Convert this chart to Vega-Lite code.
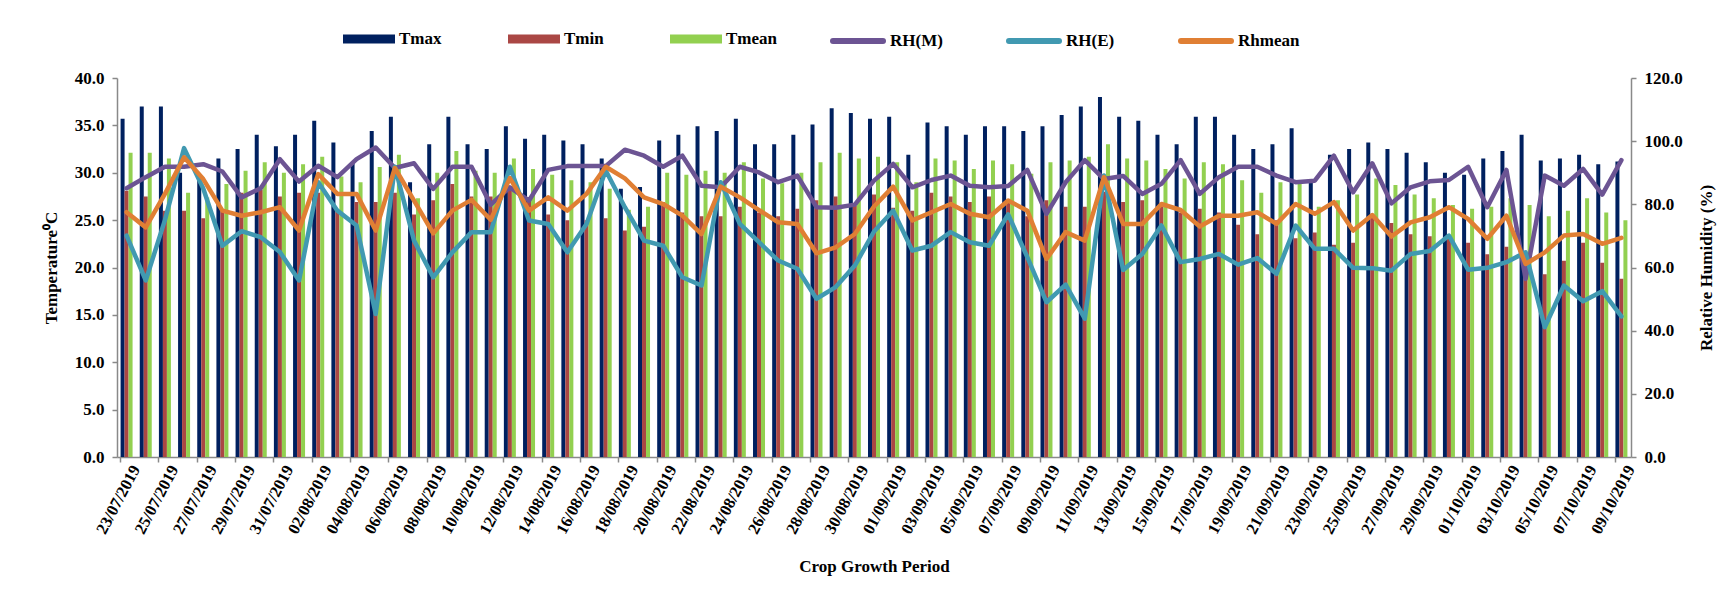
{
  "$schema": "https://vega.github.io/schema/vega-lite/v6.json",
  "width": 1514,
  "height": 379,
  "autosize": {"type": "none"},
  "padding": {"left": 117, "top": 78, "right": 103, "bottom": 133},
  "background": "white",
  "config": {
    "view": {"stroke": null},
    "font": "Liberation Serif",
    "axis": {
      "labelFont": "Liberation Serif", "labelFontWeight": "bold", "labelFontSize": 17, "labelColor": "black",
      "titleFont": "Liberation Serif", "titleFontWeight": "bold", "titleFontSize": 17, "titleColor": "black",
      "domainColor": "#898989", "domainWidth": 1.5, "tickColor": "#898989", "tickWidth": 1.5, "tickSize": 5, "grid": false
    },
    "legend": {"labelFont": "Liberation Serif", "labelFontWeight": "bold", "labelFontSize": 17, "labelColor": "black"}
  },
  "data": {"values": [
    {"d":"23/07/2019","Tmax":35.7,"Tmin":28.1,"Tmean":32.1,"RHM":85.1,"RHE":70.1,"RHmean":77.5},
    {"d":"24/07/2019","Tmax":37.0,"Tmin":27.5,"Tmean":32.1,"RHM":88.6,"RHE":55.9,"RHmean":72.7},
    {"d":"25/07/2019","Tmax":37.0,"Tmin":26.0,"Tmean":31.5,"RHM":91.9,"RHE":75.0,"RHmean":83.3},
    {"d":"26/07/2019","Tmax":30.0,"Tmin":26.0,"Tmean":27.9,"RHM":91.9,"RHE":97.8,"RHmean":94.9},
    {"d":"27/07/2019","Tmax":29.6,"Tmin":25.2,"Tmean":27.4,"RHM":92.7,"RHE":85.0,"RHmean":88.0},
    {"d":"28/07/2019","Tmax":31.5,"Tmin":26.1,"Tmean":28.8,"RHM":90.4,"RHE":66.9,"RHmean":78.0},
    {"d":"29/07/2019","Tmax":32.5,"Tmin":27.9,"Tmean":30.2,"RHM":82.2,"RHE":71.5,"RHmean":76.4},
    {"d":"30/07/2019","Tmax":34.0,"Tmin":28.2,"Tmean":31.1,"RHM":85.1,"RHE":69.6,"RHmean":77.5},
    {"d":"31/07/2019","Tmax":32.8,"Tmin":27.5,"Tmean":30.0,"RHM":94.3,"RHE":64.9,"RHmean":79.1},
    {"d":"01/08/2019","Tmax":34.0,"Tmin":27.9,"Tmean":30.9,"RHM":87.2,"RHE":55.9,"RHmean":71.7},
    {"d":"02/08/2019","Tmax":35.5,"Tmin":27.9,"Tmean":31.7,"RHM":92.2,"RHE":87.0,"RHmean":89.6},
    {"d":"03/08/2019","Tmax":33.2,"Tmin":26.0,"Tmean":29.6,"RHM":88.6,"RHE":78.0,"RHmean":83.3},
    {"d":"04/08/2019","Tmax":31.1,"Tmin":26.9,"Tmean":29.0,"RHM":94.3,"RHE":73.3,"RHmean":83.3},
    {"d":"05/08/2019","Tmax":34.4,"Tmin":26.9,"Tmean":30.6,"RHM":98.0,"RHE":45.3,"RHmean":71.7},
    {"d":"06/08/2019","Tmax":35.9,"Tmin":27.9,"Tmean":31.9,"RHM":91.5,"RHE":91.9,"RHmean":91.5},
    {"d":"07/08/2019","Tmax":29.0,"Tmin":25.6,"Tmean":27.3,"RHM":93.0,"RHE":68.5,"RHmean":81.2},
    {"d":"08/08/2019","Tmax":33.0,"Tmin":27.1,"Tmean":30.0,"RHM":84.9,"RHE":56.9,"RHmean":70.8},
    {"d":"09/08/2019","Tmax":35.9,"Tmin":28.8,"Tmean":32.3,"RHM":91.9,"RHE":64.8,"RHmean":78.0},
    {"d":"10/08/2019","Tmax":33.0,"Tmin":27.5,"Tmean":30.2,"RHM":91.9,"RHE":71.2,"RHmean":81.4},
    {"d":"11/08/2019","Tmax":32.5,"Tmin":27.5,"Tmean":30.0,"RHM":79.9,"RHE":71.2,"RHmean":75.1},
    {"d":"12/08/2019","Tmax":34.9,"Tmin":28.1,"Tmean":31.5,"RHM":85.4,"RHE":91.9,"RHmean":88.3},
    {"d":"13/08/2019","Tmax":33.6,"Tmin":27.2,"Tmean":30.4,"RHM":81.2,"RHE":74.9,"RHmean":78.0},
    {"d":"14/08/2019","Tmax":34.0,"Tmin":25.6,"Tmean":29.8,"RHM":90.9,"RHE":73.8,"RHmean":82.2},
    {"d":"15/08/2019","Tmax":33.4,"Tmin":25.0,"Tmean":29.2,"RHM":92.1,"RHE":64.8,"RHmean":78.0},
    {"d":"16/08/2019","Tmax":33.0,"Tmin":25.0,"Tmean":29.0,"RHM":92.1,"RHE":73.8,"RHmean":83.3},
    {"d":"17/08/2019","Tmax":31.5,"Tmin":25.2,"Tmean":28.3,"RHM":92.1,"RHE":90.7,"RHmean":91.9},
    {"d":"18/08/2019","Tmax":28.3,"Tmin":23.9,"Tmean":26.1,"RHM":97.3,"RHE":79.1,"RHmean":88.2},
    {"d":"19/08/2019","Tmax":28.5,"Tmin":24.3,"Tmean":26.4,"RHM":95.4,"RHE":68.5,"RHmean":82.2},
    {"d":"20/08/2019","Tmax":33.4,"Tmin":26.9,"Tmean":30.0,"RHM":91.9,"RHE":66.9,"RHmean":80.1},
    {"d":"21/08/2019","Tmax":34.0,"Tmin":25.8,"Tmean":29.8,"RHM":95.4,"RHE":56.9,"RHmean":76.4},
    {"d":"22/08/2019","Tmax":34.9,"Tmin":25.4,"Tmean":30.2,"RHM":85.9,"RHE":54.3,"RHmean":70.6},
    {"d":"23/08/2019","Tmax":34.4,"Tmin":25.4,"Tmean":30.0,"RHM":85.4,"RHE":87.0,"RHmean":85.6},
    {"d":"24/08/2019","Tmax":35.7,"Tmin":26.4,"Tmean":31.1,"RHM":91.9,"RHE":73.8,"RHmean":82.2},
    {"d":"25/08/2019","Tmax":33.0,"Tmin":25.8,"Tmean":29.4,"RHM":90.1,"RHE":68.0,"RHmean":78.2},
    {"d":"26/08/2019","Tmax":33.0,"Tmin":25.4,"Tmean":28.9,"RHM":87.0,"RHE":62.2,"RHmean":74.3},
    {"d":"27/08/2019","Tmax":34.0,"Tmin":26.2,"Tmean":30.0,"RHM":89.1,"RHE":59.6,"RHmean":73.8},
    {"d":"28/08/2019","Tmax":35.1,"Tmin":27.1,"Tmean":31.1,"RHM":79.1,"RHE":50.1,"RHmean":64.5},
    {"d":"29/08/2019","Tmax":36.8,"Tmin":27.5,"Tmean":32.1,"RHM":78.9,"RHE":53.8,"RHmean":66.4},
    {"d":"30/08/2019","Tmax":36.3,"Tmin":26.5,"Tmean":31.5,"RHM":79.9,"RHE":60.6,"RHmean":70.6},
    {"d":"31/08/2019","Tmax":35.7,"Tmin":27.7,"Tmean":31.7,"RHM":87.5,"RHE":71.4,"RHmean":79.3},
    {"d":"01/09/2019","Tmax":35.9,"Tmin":26.3,"Tmean":31.1,"RHM":92.8,"RHE":78.0,"RHmean":85.6},
    {"d":"02/09/2019","Tmax":31.9,"Tmin":26.0,"Tmean":29.0,"RHM":85.4,"RHE":65.4,"RHmean":74.9},
    {"d":"03/09/2019","Tmax":35.3,"Tmin":27.9,"Tmean":31.5,"RHM":87.7,"RHE":66.9,"RHmean":77.5},
    {"d":"04/09/2019","Tmax":34.9,"Tmin":27.5,"Tmean":31.3,"RHM":89.1,"RHE":71.2,"RHmean":80.1},
    {"d":"05/09/2019","Tmax":34.0,"Tmin":26.9,"Tmean":30.4,"RHM":85.9,"RHE":68.0,"RHmean":77.0},
    {"d":"06/09/2019","Tmax":34.9,"Tmin":27.5,"Tmean":31.3,"RHM":85.4,"RHE":66.9,"RHmean":75.9},
    {"d":"07/09/2019","Tmax":34.9,"Tmin":26.9,"Tmean":30.9,"RHM":85.8,"RHE":76.8,"RHmean":81.2},
    {"d":"08/09/2019","Tmax":34.4,"Tmin":25.4,"Tmean":29.9,"RHM":90.9,"RHE":63.3,"RHmean":78.0},
    {"d":"09/09/2019","Tmax":34.9,"Tmin":27.1,"Tmean":31.1,"RHM":77.0,"RHE":49.0,"RHmean":62.7},
    {"d":"10/09/2019","Tmax":36.1,"Tmin":26.4,"Tmean":31.3,"RHM":87.0,"RHE":54.6,"RHmean":71.2},
    {"d":"11/09/2019","Tmax":37.0,"Tmin":26.4,"Tmean":31.7,"RHM":94.0,"RHE":43.8,"RHmean":68.5},
    {"d":"12/09/2019","Tmax":38.0,"Tmin":28.0,"Tmean":33.0,"RHM":88.0,"RHE":89.1,"RHmean":88.6},
    {"d":"13/09/2019","Tmax":35.9,"Tmin":26.9,"Tmean":31.5,"RHM":89.0,"RHE":59.2,"RHmean":73.8},
    {"d":"14/09/2019","Tmax":35.5,"Tmin":27.1,"Tmean":31.3,"RHM":83.3,"RHE":64.3,"RHmean":73.8},
    {"d":"15/09/2019","Tmax":34.0,"Tmin":26.8,"Tmean":30.4,"RHM":86.5,"RHE":73.3,"RHmean":80.1},
    {"d":"16/09/2019","Tmax":33.0,"Tmin":25.8,"Tmean":29.4,"RHM":94.0,"RHE":61.7,"RHmean":78.2},
    {"d":"17/09/2019","Tmax":35.9,"Tmin":26.2,"Tmean":31.1,"RHM":83.3,"RHE":62.7,"RHmean":73.0},
    {"d":"18/09/2019","Tmax":35.9,"Tmin":25.8,"Tmean":30.9,"RHM":88.6,"RHE":64.3,"RHmean":76.4},
    {"d":"19/09/2019","Tmax":34.0,"Tmin":24.5,"Tmean":29.2,"RHM":91.9,"RHE":60.9,"RHmean":76.4},
    {"d":"20/09/2019","Tmax":32.5,"Tmin":23.5,"Tmean":27.9,"RHM":91.9,"RHE":63.0,"RHmean":77.5},
    {"d":"21/09/2019","Tmax":33.0,"Tmin":25.0,"Tmean":29.0,"RHM":89.1,"RHE":58.0,"RHmean":73.8},
    {"d":"22/09/2019","Tmax":34.7,"Tmin":23.1,"Tmean":28.8,"RHM":87.0,"RHE":73.3,"RHmean":80.1},
    {"d":"23/09/2019","Tmax":29.1,"Tmin":23.7,"Tmean":26.4,"RHM":87.5,"RHE":65.9,"RHmean":77.0},
    {"d":"24/09/2019","Tmax":31.9,"Tmin":22.4,"Tmean":27.1,"RHM":95.4,"RHE":65.9,"RHmean":80.7},
    {"d":"25/09/2019","Tmax":32.5,"Tmin":22.6,"Tmean":27.7,"RHM":83.8,"RHE":59.9,"RHmean":71.7},
    {"d":"26/09/2019","Tmax":33.2,"Tmin":25.6,"Tmean":29.4,"RHM":93.0,"RHE":59.8,"RHmean":76.6},
    {"d":"27/09/2019","Tmax":32.5,"Tmin":24.7,"Tmean":28.7,"RHM":80.3,"RHE":59.0,"RHmean":69.8},
    {"d":"28/09/2019","Tmax":32.1,"Tmin":23.5,"Tmean":27.7,"RHM":85.4,"RHE":64.3,"RHmean":74.3},
    {"d":"29/09/2019","Tmax":31.1,"Tmin":23.3,"Tmean":27.3,"RHM":87.3,"RHE":65.2,"RHmean":75.9},
    {"d":"30/09/2019","Tmax":30.0,"Tmin":23.4,"Tmean":26.6,"RHM":87.7,"RHE":70.1,"RHmean":79.1},
    {"d":"01/10/2019","Tmax":29.8,"Tmin":22.6,"Tmean":26.2,"RHM":91.9,"RHE":59.3,"RHmean":75.4},
    {"d":"02/10/2019","Tmax":31.5,"Tmin":21.4,"Tmean":26.4,"RHM":79.1,"RHE":59.9,"RHmean":69.1},
    {"d":"03/10/2019","Tmax":32.3,"Tmin":22.2,"Tmean":27.3,"RHM":90.9,"RHE":61.7,"RHmean":76.4},
    {"d":"04/10/2019","Tmax":34.0,"Tmin":19.2,"Tmean":26.6,"RHM":56.4,"RHE":64.8,"RHmean":61.1},
    {"d":"05/10/2019","Tmax":31.3,"Tmin":19.3,"Tmean":25.4,"RHM":89.1,"RHE":41.1,"RHmean":64.8},
    {"d":"06/10/2019","Tmax":31.5,"Tmin":20.7,"Tmean":26.0,"RHM":85.9,"RHE":54.3,"RHmean":70.1},
    {"d":"07/10/2019","Tmax":31.9,"Tmin":22.6,"Tmean":27.3,"RHM":91.2,"RHE":49.3,"RHmean":70.6},
    {"d":"08/10/2019","Tmax":30.9,"Tmin":20.5,"Tmean":25.8,"RHM":83.1,"RHE":52.5,"RHmean":67.5},
    {"d":"09/10/2019","Tmax":31.2,"Tmin":18.8,"Tmean":25.0,"RHM":94.0,"RHE":44.5,"RHmean":69.4}
  ]},
  "encoding": {
    "x": {
      "field": "d", "type": "nominal", "sort": null,
      "scale": {"paddingInner": 0.374, "paddingOuter": 0.187},
      "axis": {
        "title": "Crop Growth Period", "titlePadding": 22,
        "values": ["23/07/2019","25/07/2019","27/07/2019","29/07/2019","31/07/2019","02/08/2019","04/08/2019","06/08/2019","08/08/2019","10/08/2019","12/08/2019","14/08/2019","16/08/2019","18/08/2019","20/08/2019","22/08/2019","24/08/2019","26/08/2019","28/08/2019","30/08/2019","01/09/2019","03/09/2019","05/09/2019","07/09/2019","09/09/2019","11/09/2019","13/09/2019","15/09/2019","17/09/2019","19/09/2019","21/09/2019","23/09/2019","25/09/2019","27/09/2019","29/09/2019","01/10/2019","03/10/2019","05/10/2019","07/10/2019","09/10/2019"],
        "bandPosition": 0, "labelOffset": 9.6,
        "labelAngle": -62, "labelAlign": "right", "labelBaseline": "middle", "labelPadding": 4, "labelFontSize": 16.5
      }
    }
  },
  "layer": [
    {
      "transform": [{"fold": ["Tmax", "Tmin", "Tmean"], "as": ["series", "temp"]}],
      "mark": {"type": "bar"},
      "encoding": {
        "xOffset": {"field": "series", "type": "nominal", "scale": {"domain": ["Tmax", "Tmin", "Tmean"], "paddingInner": 0, "paddingOuter": 0}},
        "y": {
          "field": "temp", "type": "quantitative",
          "scale": {"domain": [0, 40], "nice": false, "zero": true},
          "axis": {"title": "Temperature⁰C", "values": [0,5,10,15,20,25,30,35,40], "format": ".1f", "titlePadding": 14, "labelPadding": 8}
        },
        "color": {
          "field": "series", "type": "nominal",
          "scale": {"domain": ["Tmax", "Tmin", "Tmean"], "range": ["#00205F", "#AA4744", "#92D050"]},
          "legend": {
            "title": null, "orient": "none", "legendX": 226, "legendY": -65, "direction": "horizontal",
            "symbolType": "M-1,-0.173H1V0.173H-1Z", "symbolSize": 2704, "symbolStrokeWidth": 0,
            "columnPadding": 66, "labelOffset": 4
          }
        }
      }
    },
    {
      "layer": [
        {
          "mark": {"type": "line", "strokeWidth": 4.5, "strokeJoin": "round", "strokeCap": "round"},
          "encoding": {
            "y": {"field": "RHM", "type": "quantitative", "scale": {"domain": [0, 120], "nice": false},
              "axis": {"orient": "right", "title": "Relative Humidity (%)", "values": [0,20,40,60,80,100,120], "format": ".1f", "titleAngle": 270, "titleBaseline": "top", "titlePadding": 16, "labelPadding": 8}},
            "stroke": {"datum": "RH(M)", "type": "nominal",
              "scale": {"domain": ["RH(M)", "RH(E)", "Rhmean"], "range": ["#6C5493", "#4199B1", "#E07F34"]},
              "legend": {
                "title": null, "orient": "none", "legendX": 713, "legendY": -65, "direction": "horizontal",
                "symbolType": "M-1,0H1", "symbolSize": 2500, "symbolStrokeWidth": 6,
                "columnPadding": 54, "labelOffset": 4,
                "encode": {"symbols": {"update": {"strokeCap": {"value": "round"}}}}
              }
            }
          }
        },
        {
          "mark": {"type": "line", "strokeWidth": 4.5, "strokeJoin": "round", "strokeCap": "round"},
          "encoding": {
            "y": {"field": "RHE", "type": "quantitative", "scale": {"domain": [0, 120], "nice": false},
              "axis": {"orient": "right", "title": "Relative Humidity (%)", "values": [0,20,40,60,80,100,120], "format": ".1f", "titleAngle": 270, "titleBaseline": "top", "titlePadding": 16, "labelPadding": 8}},
            "stroke": {"datum": "RH(E)", "type": "nominal"}
          }
        },
        {
          "mark": {"type": "line", "strokeWidth": 4.5, "strokeJoin": "round", "strokeCap": "round"},
          "encoding": {
            "y": {"field": "RHmean", "type": "quantitative", "scale": {"domain": [0, 120], "nice": false},
              "axis": {"orient": "right", "title": "Relative Humidity (%)", "values": [0,20,40,60,80,100,120], "format": ".1f", "titleAngle": 270, "titleBaseline": "top", "titlePadding": 16, "labelPadding": 8}},
            "stroke": {"datum": "Rhmean", "type": "nominal"}
          }
        }
      ]
    }
  ],
  "resolve": {"scale": {"y": "independent"}}
}
